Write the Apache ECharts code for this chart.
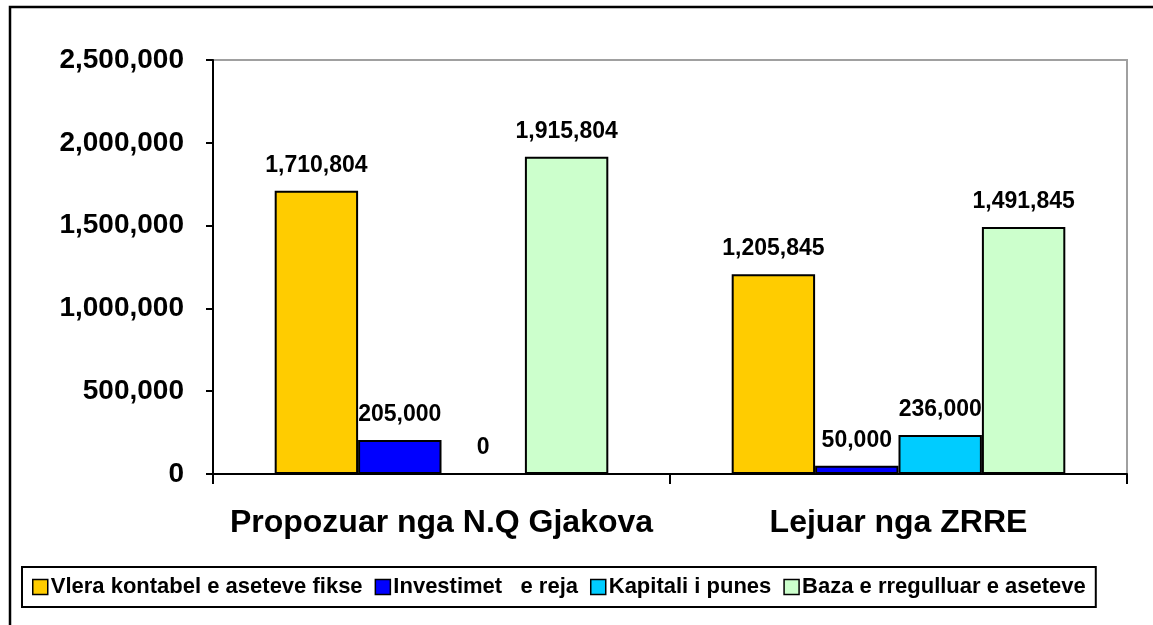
<!DOCTYPE html>
<html>
<head>
<meta charset="utf-8">
<script src="https://cdn.jsdelivr.net/npm/echarts@6/dist/echarts.min.js"></script>
<style>
  html, body { margin: 0; padding: 0; background: #fff; }
  #chart { width: 1153px; height: 625px; }
</style>
</head>
<body>
<div id="chart"></div>
<script>
// categories and series
const categories = ['Propozuar nga N.Q Gjakova', 'Lejuar nga ZRRE'];
const seriesNames = ['Vlera kontabel e aseteve fikse', 'Investimet   e reja', 'Kapitali i punes', 'Baza e rregulluar e aseteve'];
const vleraKontabel = [1710804, 1205845];
const investimet = [205000, 50000];
const kapitali = [0, 236000];
const bazaRregulluar = [1915804, 1491845];
const seriesColors = ['#FFCC00', '#0000FF', '#00CCFF', '#CCFFCC'];

const FONT = '"Liberation Sans", Arial, sans-serif';
const fmt = v => Number(v).toLocaleString('en-US');

var myChart = echarts.init(document.getElementById('chart'));

const allData = [vleraKontabel, investimet, kapitali, bazaRregulluar];

myChart.setOption({
  animation: false,
  backgroundColor: '#fff',
  graphic: [{
    type: 'rect',
    shape: { x: 10, y: 7, width: 1200, height: 700 },
    style: { fill: 'none', stroke: '#000', lineWidth: 2.5 },
    silent: true
  }],
  grid: {
    left: 213,
    top: 60,
    right: 26,
    bottom: 151,
    show: true,
    borderColor: '#a0a0a0',
    borderWidth: 2
  },
  legend: {
    left: 22,
    top: 567,
    padding: [9, 10],
    borderColor: '#000',
    borderWidth: 2,
    itemWidth: 15,
    itemHeight: 15,
    itemGap: 12,
    icon: 'rect',
    itemStyle: { borderColor: '#000', borderWidth: 1.5 },
    textStyle: { fontFamily: FONT, fontWeight: 'bold', fontSize: 22, color: '#000', padding: [0, 0, 0, -2] },
    data: seriesNames
  },
  xAxis: {
    type: 'category',
    data: categories,
    axisLine: { lineStyle: { color: '#000', width: 2 } },
    axisTick: { show: true, interval: 0, length: 10, lineStyle: { color: '#000', width: 2 } },
    axisLabel: {
      interval: 0,
      margin: 33,
      color: '#000',
      fontFamily: FONT,
      fontWeight: 'bold',
      fontSize: 32
    }
  },
  yAxis: {
    type: 'value',
    min: 0,
    max: 2500000,
    interval: 500000,
    splitLine: { show: false },
    axisLine: { show: true, lineStyle: { color: '#000', width: 2 } },
    axisTick: { show: true, length: 7, lineStyle: { color: '#000', width: 2 } },
    axisLabel: {
      margin: 29,
      color: '#000',
      fontFamily: FONT,
      fontWeight: 'bold',
      fontSize: 28,
      formatter: fmt
    }
  },
  series: seriesNames.map((name, i) => ({
    name: name,
    type: 'bar',
    data: allData[i],
    barGap: '0%',
    barCategoryGap: '27%',
    itemStyle: { color: seriesColors[i], borderColor: '#000', borderWidth: 2 },
    label: {
      show: true,
      position: 'top',
      distance: 14,
      color: '#000',
      fontFamily: FONT,
      fontWeight: 'bold',
      fontSize: 23,
      formatter: p => fmt(p.value)
    }
  }))
});
</script>
</body>
</html>
